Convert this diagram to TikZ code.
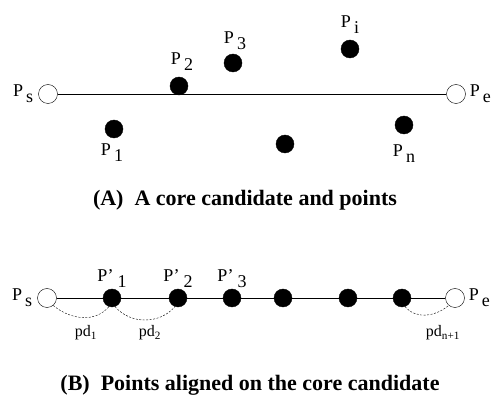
\documentclass[tikz,border=0pt]{standalone}
\usepackage{fontspec}
\setmainfont{Liberation Serif}
\usetikzlibrary{positioning}

\newcommand{\psub}[1]{P\kern3pt\raisebox{-6pt}{#1}}
\newcommand{\pprime}[1]{P’\kern4pt\raisebox{-6pt}{#1}}

\begin{document}
\begin{tikzpicture}[
    x=1pt, y=-1pt,
    dot/.style={circle, fill=black, draw=black, inner sep=0pt, minimum size=18pt},
    endpt/.style={circle, fill=white, draw=black, inner sep=0pt, minimum size=19pt},
    lbl/.style={inner sep=0pt, font=\fontsize{18}{20}\selectfont},
    dist/.style={inner sep=1pt, font=\fontsize{16}{18}\selectfont},
    caption/.style={font=\fontsize{22}{26}\selectfont\bfseries},
    gap/.style={dashed, thin, dash pattern=on 2pt off 1.5pt},
]
\useasboundingbox (0,0) rectangle (491,401);

% (A) core candidate and points
\node[endpt] (ps) at (48,94) {};
\node[endpt] (pe) at (456,94) {};
\draw[thick] (ps) -- (pe);
\node[dot] (p1) at (114,129) {};
\node[dot] (p2) at (179,86) {};
\node[dot] (p3) at (233,63) {};
\node[dot] (pi) at (350,49) {};
\node[dot] (pm) at (285,144) {};
\node[dot] (pn) at (404,125) {};

\node[lbl, left=5pt of ps] (lps) {\psub{s}};
\node[lbl, right=4pt of pe] (lpe) {\psub{e}};
\node[lbl, above=6pt of p2, xshift=3pt] (lp2) {\psub{2}};
\node[lbl, above=4pt of p3, xshift=2pt] (lp3) {\psub{3}};
\node[lbl, above=6pt of pi] (lpi) {\psub{i}};
\node[lbl, below=5pt of p1, xshift=-2pt] (lp1) {\psub{1}};
\node[lbl, below=10pt of pn] (lpn) {\psub{n}};

\node[caption] (capa) at (245,200) {(A)\ \ A core candidate and points};

% (B) points aligned on the core candidate
\node[endpt] (bs) at (47,298) {};
\node[endpt] (be) at (455,298) {};
\draw[thick] (bs) -- (be);
\node[dot] (q1) at (112,298) {};
\node[dot] (q2) at (178,298) {};
\node[dot] (q3) at (232,298) {};
\node[dot] (q4) at (283,298) {};
\node[dot] (q5) at (348,298) {};
\node[dot] (q6) at (402,298) {};

\node[lbl, left=5pt of bs] (lbs) {\psub{s}};
\node[lbl, right=4pt of be] (lbe) {\psub{e}};
\node[lbl, above=1pt of q1] (lq1) {\pprime{1}};
\node[lbl, above=1pt of q2] (lq2) {\pprime{2}};
\node[lbl, above=1pt of q3] (lq3) {\pprime{3}};

\draw[gap] (bs.-50) to[out=-40, in=-130] (q1.-110);
\draw[gap] (q1.-70) to[out=-50, in=-130] (q2.-110);
\draw[gap] (q6.-70) to[out=-50, in=-140] (be.-130);
\node[dist] (d1) at (86,333) {pd\textsubscript{1}};
\node[dist] (d2) at (150,333) {pd\textsubscript{2}};
\node[dist] (dn) at (443,333) {pd\textsubscript{n+1}};

\node[caption] (capb) at (250,385) {(B)\ \ Points aligned on the core candidate};
\end{tikzpicture}
\end{document}
